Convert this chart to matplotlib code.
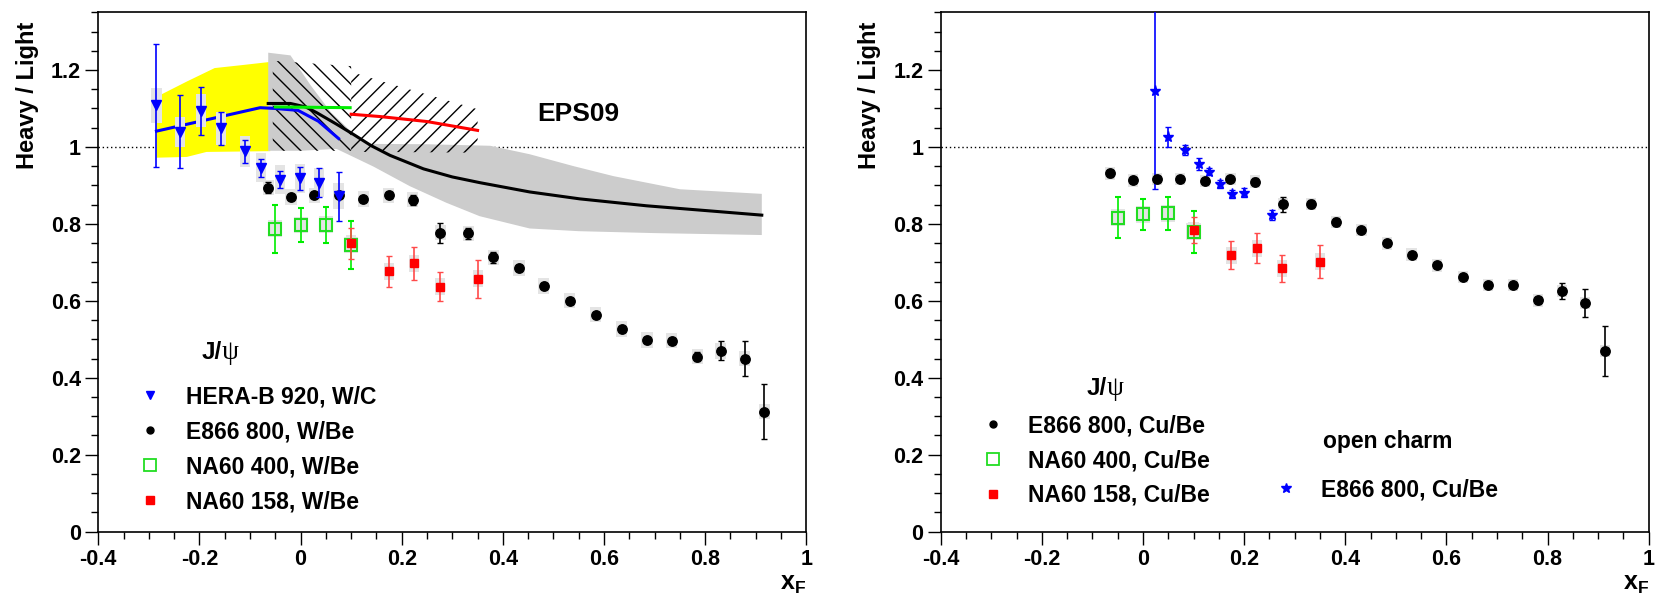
import matplotlib
matplotlib.use('Agg')
import matplotlib.pyplot as plt
import numpy as np
from matplotlib.ticker import MultipleLocator, FuncFormatter
from matplotlib.lines import Line2D

plt.rcParams['font.family'] = ['Liberation Sans', 'DejaVu Sans']
plt.rcParams['font.weight'] = 'bold'
plt.rcParams['axes.unicode_minus'] = False
plt.rcParams['mathtext.fontset'] = 'custom'
plt.rcParams['mathtext.bf'] = 'Liberation Sans:bold'
plt.rcParams['mathtext.rm'] = 'Liberation Sans:bold'
plt.rcParams['mathtext.it'] = 'Liberation Sans:bold'
plt.rcParams['hatch.linewidth'] = 1.0

# ---------------- data: left panel (W/Be, W/C) ----------------
herab_x = [-0.285, -0.238, -0.197, -0.157, -0.110, -0.079, -0.040, -0.002, 0.036, 0.075]
herab_y = [1.108, 1.039, 1.094, 1.048, 0.989, 0.946, 0.915, 0.918, 0.907, 0.872]
herab_err = [0.16, 0.095, 0.063, 0.043, 0.030, 0.023, 0.022, 0.030, 0.037, 0.064]
herab_sys = [0.045, 0.040, 0.043, 0.043, 0.040, 0.038, 0.037, 0.037, 0.037, 0.033]

e866w_x = [-0.064, -0.019, 0.027, 0.075, 0.124, 0.174, 0.222, 0.276, 0.332, 0.381, 0.432,
           0.481, 0.532, 0.584, 0.635, 0.685, 0.734, 0.784, 0.831, 0.878, 0.917]
e866w_y = [0.894, 0.870, 0.874, 0.874, 0.865, 0.874, 0.863, 0.777, 0.775, 0.713, 0.685,
           0.638, 0.600, 0.564, 0.527, 0.498, 0.496, 0.455, 0.470, 0.450, 0.312]
e866w_err = [0.015, 0.008, 0.008, 0.008, 0.008, 0.008, 0.013, 0.026, 0.015, 0.014, 0.008,
             0.008, 0.008, 0.008, 0.008, 0.008, 0.008, 0.012, 0.025, 0.045, 0.072]

na400w_x = [-0.05, 0.0, 0.05, 0.10]
na400w_y = [0.787, 0.797, 0.798, 0.745]
na400w_err = [0.062, 0.045, 0.047, 0.063]

na158w_x = [0.10, 0.175, 0.225, 0.276, 0.35]
na158w_y = [0.749, 0.677, 0.697, 0.637, 0.657]
na158w_err = [0.040, 0.040, 0.042, 0.038, 0.049]

# EPS09 theory curves / bands
yel_x_up = [-0.285, -0.225, -0.170, -0.114, -0.060]
yel_up = [1.130, 1.170, 1.205, 1.213, 1.221]
yel_x_lo = [-0.285, -0.225, -0.186, -0.060]
yel_lo = [0.972, 0.974, 0.987, 0.989]

grey_x_up = [-0.064, -0.020, 0.020, 0.060, 0.100, 0.130, 0.250, 0.375, 0.453, 0.540, 0.619, 0.750, 0.912]
grey_up = [1.245, 1.238, 1.160, 1.090, 1.040, 1.008, 1.007, 1.003, 0.981, 0.950, 0.924, 0.890, 0.878]
grey_x_lo = [-0.064, 0.000, 0.071, 0.144, 0.216, 0.288, 0.354, 0.453, 0.550, 0.700, 0.912]
grey_lo = [0.990, 0.990, 0.995, 0.949, 0.898, 0.855, 0.820, 0.788, 0.781, 0.776, 0.771]

e866_th_x = [-0.064, -0.020, 0.010, 0.032, 0.070, 0.104, 0.140, 0.177, 0.243, 0.300, 0.355,
             0.453, 0.552, 0.684, 0.816, 0.912]
e866_th_y = [1.113, 1.113, 1.104, 1.089, 1.060, 1.033, 1.003, 0.978, 0.943, 0.922, 0.907,
             0.883, 0.865, 0.847, 0.833, 0.8227]

herab_th_x = [-0.285, -0.080, -0.050, -0.005, 0.035, 0.075]
herab_th_y = [1.041, 1.102, 1.100, 1.095, 1.067, 1.022]

na400_th_x = [-0.05, 0.098]
na400_th_y = [1.104, 1.102]

na158_th_x = [0.10, 0.157, 0.25, 0.35]
na158_th_y = [1.085, 1.079, 1.066, 1.043]

hatch1_x = [-0.055, 0.10]
hatch1_up = [1.224, 1.210]
hatch1_lo = [0.990, 0.990]

hatch2_x = [0.10, 0.157, 0.35]
hatch2_up = [1.195, 1.172, 1.098]
hatch2_lo = [0.987, 0.987, 0.985]

# ---------------- data: right panel (Cu/Be) ----------------
e866c_x = [-0.065, -0.019, 0.027, 0.074, 0.123, 0.173, 0.222, 0.277, 0.332, 0.381, 0.432,
           0.482, 0.531, 0.582, 0.633, 0.683, 0.732, 0.781, 0.828, 0.874, 0.913]
e866c_y = [0.931, 0.913, 0.916, 0.917, 0.911, 0.917, 0.910, 0.851, 0.851, 0.804, 0.784,
           0.749, 0.720, 0.692, 0.662, 0.641, 0.641, 0.601, 0.626, 0.595, 0.469]
e866c_err = [0.010, 0.006, 0.006, 0.006, 0.006, 0.006, 0.008, 0.020, 0.010, 0.010, 0.006,
             0.006, 0.006, 0.006, 0.006, 0.006, 0.006, 0.010, 0.021, 0.036, 0.065]

na400c_x = [-0.05, 0.0, 0.05, 0.10]
na400c_y = [0.816, 0.8245, 0.827, 0.779]
na400c_err = [0.054, 0.040, 0.042, 0.055]

na158c_x = [0.10, 0.175, 0.225, 0.275, 0.35]
na158c_y = [0.784, 0.7185, 0.737, 0.684, 0.701]
na158c_err = [0.035, 0.036, 0.038, 0.035, 0.043]

charm_x = [0.0244, 0.049, 0.083, 0.111, 0.131, 0.153, 0.176, 0.199, 0.256]
charm_y = [1.145, 1.026, 0.992, 0.955, 0.936, 0.903, 0.877, 0.881, 0.823]
charm_err = [0.255, 0.025, 0.012, 0.015, 0.010, 0.010, 0.010, 0.012, 0.012]

sys_e866 = 0.02
sys_na = 0.022

BOX = '#e4e4e4'
BLUE = '#0000ff'
GREEN = '#00ee00'
RED = '#ff0000'
REDERR = '#ff4a4a'

fig = plt.figure(figsize=(16.61, 5.93), dpi=100)
axL = fig.add_axes([0.05918, 0.10354, 0.42625, 0.87572])
axR = fig.add_axes([0.56634, 0.10354, 0.42625, 0.87572])


def fmt(v, p):
    if abs(v) < 1e-9:
        v = 0
    return '%g' % round(v, 3)


def style(ax):
    ax.set_xlim(-0.4, 1.0)
    ax.set_ylim(0, 1.35)
    ax.xaxis.set_major_locator(MultipleLocator(0.2))
    ax.xaxis.set_minor_locator(MultipleLocator(0.05))
    ax.yaxis.set_major_locator(MultipleLocator(0.2))
    ax.yaxis.set_minor_locator(MultipleLocator(0.05))
    ax.xaxis.set_major_formatter(FuncFormatter(fmt))
    ax.yaxis.set_major_formatter(FuncFormatter(fmt))
    ax.tick_params(which='major', length=9.5, width=1.0, labelsize=15.5, pad=3)
    ax.tick_params(which='minor', length=5, width=1.0)
    for s in ax.spines.values():
        s.set_linewidth(1.2)
    ax.axhline(1.0, color='black', lw=1.0, ls=(0, (1, 2)), zorder=0.5)
    ax.text(-0.1007, 0.983, 'Heavy / Light', rotation=90, ha='center', va='top',
            transform=ax.transAxes, fontsize=17, fontweight='bold')
    ax.text(1.0, -0.078, r'$\mathbf{x_F}$', ha='right', va='top',
            transform=ax.transAxes, fontsize=18)


def boxes(ax, x, y, s, w=0.02):
    s = np.broadcast_to(np.asarray(s, dtype=float), np.shape(y))
    ax.bar(x, 2 * s, bottom=np.asarray(y) - s, width=w, color=BOX, lw=0, zorder=2)


def jpsi(ax, x, y):
    ax.text(x, y, 'J/', ha='right', va='baseline', fontsize=17.5, fontweight='bold')
    ax.text(x, y, 'ψ', ha='left', va='baseline', fontsize=19.5,
            family='Liberation Serif', fontweight='normal')


for ax in (axL, axR):
    style(ax)

# ---------------- left panel ----------------
ax = axL
ax.fill(np.concatenate([yel_x_up, yel_x_lo[::-1]]), np.concatenate([yel_up, yel_lo[::-1]]),
        color='#ffff00', lw=0, zorder=1)
ax.fill(np.concatenate([grey_x_up, grey_x_lo[::-1]]), np.concatenate([grey_up, grey_lo[::-1]]),
        color='#cccccc', lw=0, zorder=1.1)
ax.fill(np.concatenate([hatch1_x, hatch1_x[::-1]]), np.concatenate([hatch1_up, hatch1_lo[::-1]]),
        facecolor='none', edgecolor='black', hatch='\\\\', lw=0, zorder=1.2)
ax.fill(np.concatenate([hatch2_x, hatch2_x[::-1]]), np.concatenate([hatch2_up, hatch2_lo[::-1]]),
        facecolor='none', edgecolor='black', hatch='//', lw=0, zorder=1.2)
ax.plot(herab_th_x, herab_th_y, color=BLUE, lw=2.2, zorder=1.5)
ax.plot(e866_th_x, e866_th_y, color='black', lw=2.2, zorder=1.5)
ax.plot(na400_th_x, na400_th_y, color=GREEN, lw=2.2, zorder=1.5)
ax.plot(na158_th_x, na158_th_y, color=RED, lw=2.2, zorder=1.5)
ax.text(0.549, 1.085, 'EPS09', ha='center', va='center', fontsize=19, fontweight='bold')

boxes(ax, e866w_x, e866w_y, sys_e866, 0.022)
boxes(ax, na400w_x, na400w_y, sys_na, 0.028)
boxes(ax, na158w_x, na158w_y, sys_na, 0.02)
boxes(ax, herab_x, herab_y, herab_sys, 0.02)

ebkw = dict(capsize=2.5, capthick=1.0, elinewidth=1.2, ls='none')
ax.errorbar(e866w_x, e866w_y, yerr=e866w_err, fmt='o', color='black', ms=6.8, zorder=3, **ebkw)
ax.errorbar(na400w_x, na400w_y, yerr=na400w_err, fmt='s', color=GREEN, mfc='none',
            mec='#22dd22', mew=1.5, ms=8.6, zorder=3.1, **ebkw)
ax.errorbar(na158w_x, na158w_y, yerr=na158w_err, fmt='s', color=RED, ecolor=REDERR,
            ms=5.5, zorder=3.2, **ebkw)
ax.errorbar(herab_x, herab_y, yerr=herab_err, fmt='v', color=BLUE, ms=6.5, zorder=3.3, **ebkw)

jpsi(ax, -0.156, 0.4495)
h = [Line2D([], [], ls='none', marker='v', color=BLUE, ms=5.5),
     Line2D([], [], ls='none', marker='o', color='black', ms=5.0),
     Line2D([], [], ls='none', marker='s', mfc='none', mec='#22dd22', mew=1.3, ms=8.5),
     Line2D([], [], ls='none', marker='s', color=RED, ms=5.5)]
ax.legend(h, ['HERA-B 920, W/C', 'E866 800, W/Be', 'NA60 400, W/Be', 'NA60 158, W/Be'],
          loc='upper left', bbox_to_anchor=(0.0568, 0.2815), frameon=False, borderpad=0,
          borderaxespad=0, handlelength=1.0, handletextpad=1.07, labelspacing=0.52,
          prop={'size': 16.5, 'weight': 'bold'})

# ---------------- right panel ----------------
ax = axR
boxes(ax, e866c_x, e866c_y, sys_e866 * 0.8, 0.02)
boxes(ax, na400c_x, na400c_y, sys_na, 0.028)
boxes(ax, na158c_x, na158c_y, sys_na, 0.02)
ax.errorbar(charm_x, charm_y, yerr=charm_err, fmt='*', color=BLUE, ms=8, zorder=3, **ebkw)
ax.errorbar(e866c_x, e866c_y, yerr=e866c_err, fmt='o', color='black', ms=6.8, zorder=3.1, **ebkw)
ax.errorbar(na400c_x, na400c_y, yerr=na400c_err, fmt='s', color=GREEN, mfc='none',
            mec='#22dd22', mew=1.5, ms=8.6, zorder=3.2, **ebkw)
ax.errorbar(na158c_x, na158c_y, yerr=na158c_err, fmt='s', color=RED, ecolor=REDERR,
            ms=5.5, zorder=3.3, **ebkw)

jpsi(ax, -0.0717, 0.354)
h1 = [Line2D([], [], ls='none', marker='o', color='black', ms=5.0),
      Line2D([], [], ls='none', marker='s', mfc='none', mec='#22dd22', mew=1.3, ms=8.5),
      Line2D([], [], ls='none', marker='s', color=RED, ms=5.5)]
leg1 = ax.legend(h1, ['E866 800, Cu/Be', 'NA60 400, Cu/Be', 'NA60 158, Cu/Be'],
                 loc='upper left', bbox_to_anchor=(0.0572, 0.2258), frameon=False, borderpad=0,
                 borderaxespad=0, handlelength=1.0, handletextpad=1.03, labelspacing=0.51,
                 prop={'size': 16.5, 'weight': 'bold'})
ax.add_artist(leg1)
ax.text(0.3566, 0.234, 'open charm', ha='left', va='center', fontsize=16.5, fontweight='bold')
h2 = [Line2D([], [], ls='none', marker='*', color=BLUE, ms=7)]
ax.legend(h2, ['E866 800, Cu/Be'], loc='upper left', bbox_to_anchor=(0.4715, 0.1024),
          frameon=False, borderpad=0, borderaxespad=0, handlelength=1.0, handletextpad=1.03,
          prop={'size': 16.5, 'weight': 'bold'})

fig.savefig('out.png', dpi=100)
